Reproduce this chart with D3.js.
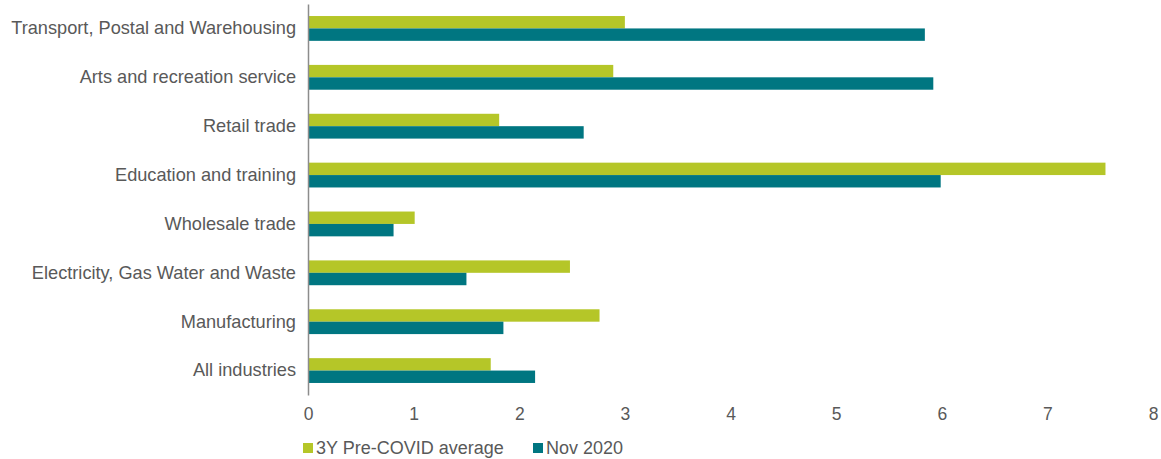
<!DOCTYPE html>
<html><head><meta charset="utf-8">
<script src="https://cdn.jsdelivr.net/npm/d3@7"></script>
<style>body{margin:0;background:#fff}svg{display:block}text{font-family:"Liberation Sans",Arial,sans-serif;fill:#595959}</style>
</head><body><svg id="c" width="1161" height="459"></svg>
<script>
const categories = ["Transport, Postal and Warehousing","Arts and recreation service","Retail trade ","Education and training","Wholesale trade","Electricity, Gas Water and Waste","Manufacturing","All industries"];
const seriesNames = ["3Y Pre-COVID average","Nov 2020"];
const preCovid = [3.00, 2.89, 1.81, 7.55, 1.01, 2.48, 2.76, 1.73];
const nov2020 = [5.84, 5.92, 2.61, 5.99, 0.81, 1.50, 1.85, 2.15];
const xTicks = [0,1,2,3,4,5,6,7,8];
const colors = ["#b5c628","#007681"];

const svg = d3.select("#c");
const x = d3.scaleLinear().domain([0,8]).range([308,1153]);
const y0 = d3.scaleBand().domain(categories).range([4,395]).padding(0);
const y1 = d3.scaleBand().domain(seriesNames).range([0,y0.bandwidth()]).paddingInner(0).paddingOuter(0.97);
const values = [preCovid, nov2020];

const g = svg.append("g");
categories.forEach((c,i)=>{
  seriesNames.forEach((s,j)=>{
    g.append("rect").attr("x",x(0)).attr("y",y0(c)+y1(s)).attr("width",x(values[j][i])-x(0)).attr("height",y1.bandwidth()).attr("fill",colors[j]);
  });
});

// y axis
const yAxis = svg.append("g").attr("transform",`translate(${x(0)},0)`).call(d3.axisLeft(y0).tickSize(0).tickPadding(12));
yAxis.select(".domain").attr("stroke","#8c8c8c").attr("stroke-width",1.5);
yAxis.selectAll("text").style("font-size","18.2px").attr("fill","#595959");

// x axis
const xAxis = svg.append("g").attr("transform","translate(0,395)").call(d3.axisBottom(x).tickValues(xTicks).tickSize(0).tickPadding(13).tickFormat(d3.format("d")));
xAxis.select(".domain").remove();
xAxis.selectAll("text").style("font-size","17.5px").attr("fill","#595959");

// legend
const leg = [{n:seriesNames[0],x:303},{n:seriesNames[1],x:533}];
leg.forEach((l,i)=>{
  svg.append("rect").attr("x",l.x).attr("y",443).attr("width",10).attr("height",10).attr("fill",colors[i]);
  svg.append("text").attr("x",l.x+13).attr("y",454).style("font-size","18px").text(l.n);
});
</script></body></html>
